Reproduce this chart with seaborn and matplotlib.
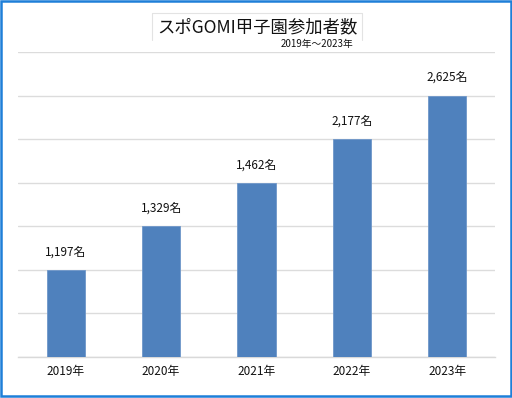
import matplotlib
matplotlib.use("Agg")
import matplotlib.pyplot as plt
import seaborn as sns
import pandas as pd
from matplotlib.patches import Rectangle
from matplotlib.lines import Line2D

years = ["2019年", "2020年", "2021年", "2022年", "2023年"]
participants = [1197, 1329, 1462, 2177, 2625]
# bar heights as drawn in the reference (in gridline steps; the bars are not to scale)
bar_heights = [2, 3, 4, 5, 6]
title = "スポGOMI甲子園参加者数"
subtitle = "2019年～2023年"

sns.set_theme(style="white")
plt.rcParams["font.family"] = ["Noto Sans CJK JP", "DejaVu Sans"]

df = pd.DataFrame({"year": years, "height": bar_heights, "n": participants})

fig = plt.figure(figsize=(5.12, 3.98), dpi=100)
ax = fig.add_axes([18/512, 1 - 357/398, (495 - 18)/512, (357 - 52)/398])

sns.barplot(data=df, x="year", y="height", color="#4f81bd", saturation=1,
            width=0.4, ax=ax, edgecolor="#6f97c9", linewidth=0.6, zorder=3)

ax.set_ylim(0, 7)
ax.set_xlim(-0.5, len(years) - 0.5)
ax.set_yticks(range(0, 8))
ax.set_yticklabels([])
ax.yaxis.grid(True, color="#dcdcdc", linewidth=1.0, zorder=0)
ax.set_axisbelow(True)
for s in ["left", "right", "top"]:
    ax.spines[s].set_visible(False)
ax.spines["bottom"].set_color("#d9d9d9")
ax.spines["bottom"].set_linewidth(1.0)
ax.tick_params(axis="y", length=0)
ax.tick_params(axis="x", length=0, labelsize=8.5, pad=6, colors="#111111")
ax.set_xlabel("")
ax.set_ylabel("")

for i, (h, n) in enumerate(zip(bar_heights, participants)):
    ax.annotate(f"{n:,}名", (i, h), xytext=(0, 18), textcoords="offset pixels",
                ha="center", va="center", fontsize=8.5, color="#111111")

# title and box
fig.text(257/512, 1 - 27/398, title, ha="center", va="center", fontsize=12.5, color="#111111")
fig.text(353/512, 1 - 44/398, subtitle, ha="right", va="center", fontsize=7, color="#111111")
bx0, bx1, by0, by1 = 152/512, 362/512, 1 - 40/398, 1 - 13/398
for xs, ys in [([bx0, bx0], [by0, by1]), ([bx0, bx1], [by1, by1]), ([bx1, bx1], [by1, by0])]:
    fig.add_artist(Line2D(xs, ys, transform=fig.transFigure, color="#e3e3e3", linewidth=0.8))

# outer blue frame
fig.add_artist(Rectangle((1/512, 2/398), 509.5/512, 395/398, transform=fig.transFigure,
                         fill=False, edgecolor="#1e7fd8", linewidth=1.8))

fig.savefig("out.png", dpi=100, facecolor="white")
